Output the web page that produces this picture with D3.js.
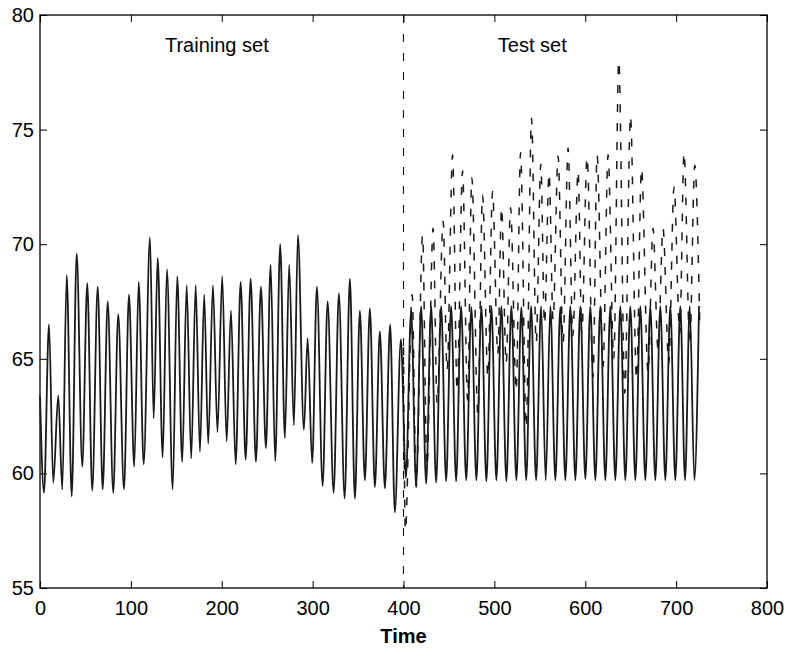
<!DOCTYPE html>
<html lang="en">
<head>
<meta charset="UTF-8">
<title>Training set / Test set</title>
<script src="https://d3js.org/d3.v7.min.js"></script>
<style>
body { margin: 0; background: #fff; }
text { font-family: Arial, "Liberation Sans", sans-serif; font-size: 20px; fill: #000; }
.axis path { display: none; }
.axis line { stroke: #000; stroke-width: 1; }
.box { fill: none; stroke: #000; stroke-width: 1.3; }
.solid { fill: none; stroke: #1a1a1a; stroke-width: 1.8; stroke-linejoin: round; }
.dashed { fill: none; stroke: #1a1a1a; stroke-width: 1.5; stroke-dasharray: 8, 11; }
.split { stroke: #111; stroke-width: 1.1; stroke-dasharray: 8, 11; }
</style>
</head>
<body>
<div id="chart"></div>
<script>
// tick values
const xTicks = [0, 100, 200, 300, 400, 500, 600, 700, 800];
const yTicks = [55, 60, 65, 70, 75, 80];

// solid series, read as local peaks / troughs
const solidTime = [
  0, 4.4, 9.9, 14.6, 20.1, 24.5, 29.4, 34.9, 40.4, 46.5,
  52.0, 57.5, 63.5, 69.0, 74.5, 80.6, 86.1, 92.4, 97.9, 103.7,
  108.6, 114.1, 121, 125.1, 129.5, 135, 139.7, 146, 151, 156.5,
  161.4, 166.4, 171.3, 176, 180.7, 185.1, 190.3, 195.3, 200.5, 205.4,
  210.1, 215.3, 220.8, 226.3, 231.8, 237.6, 243.1, 248.6, 253.8, 258.8,
  264.3, 269.5, 274.2, 279.4, 283.8, 290.4, 294.5, 299.5, 304.7, 311,
  316.5, 323.1, 328.9, 335.2, 341, 346.5, 352, 357.5, 363, 368.5,
  374, 379.5, 385.3, 390.5, 397.1, 402.6, 408.4, 413.9, 419.4, 424.9,
  430.4, 435.9, 441.4, 446.9, 452.4, 457.9, 463.4, 469, 474.7, 480.2,
  485.7, 491.2, 496.7, 502.2, 507.7, 513.2, 518.7, 524.2, 529.7, 535,
  540.4, 545.9, 551.4, 556.5, 561.6, 567.1, 572.6, 578.1, 583.6, 589.1,
  594.6, 600.1, 605.6, 611.1, 616.6, 622.1, 627.6, 633.1, 638.6, 644.1,
  649.6, 655.1, 660.6, 666.1, 671.6, 677.1, 682.6, 688.1, 693.6, 699.1,
  704.6, 709.8, 715, 720.1, 725.2
];
const solidValue = [
  63.4, 59.15, 66.5, 59.6, 63.4, 59.3, 68.65, 59.0, 69.6, 60.3,
  68.3, 59.25, 68.15, 59.3, 67.5, 59.15, 66.95, 59.3, 67.8, 60.3,
  68.35, 60.4, 70.3, 62.4, 69.4, 60.7, 68.9, 59.3, 68.6, 60.5,
  68.2, 60.65, 68.2, 60.95, 67.8, 61.3, 68.2, 61.8, 68.6, 61.4,
  67.1, 60.4, 68.35, 60.6, 68.5, 60.5, 68.15, 61.1, 69.1, 60.55,
  70.0, 61.55, 69.1, 62.1, 70.4, 61.9, 65.9, 60.45, 68.15, 59.45,
  67.5, 59.15, 67.85, 58.9, 68.5, 58.9, 67.1, 59.7, 67.2, 59.4,
  66.2, 59.35, 66.5, 58.3, 65.85, 59.8, 67.1, 59.45, 67.3, 59.55,
  67.3, 59.6, 67.3, 59.65, 67.3, 59.65, 67.3, 59.7, 67.25, 59.7,
  67.3, 59.65, 67.3, 59.7, 67.3, 59.65, 67.3, 59.7, 67.25, 59.7,
  67.3, 59.7, 67.3, 59.7, 67.3, 59.7, 67.25, 59.7, 67.3, 59.7,
  67.3, 59.75, 67.3, 59.7, 67.3, 59.7, 67.3, 59.7, 67.3, 59.7,
  67.3, 59.7, 67.3, 59.7, 67.3, 59.7, 67.3, 59.7, 67.3, 59.7,
  67.3, 59.7, 67.3, 59.7, 67.3
];

// dashed series (test set only)
const dashedTime = [
  400, 402.1, 409.5, 414, 421, 425.7, 432.6, 437, 443.6, 448,
  454, 459, 465, 470.5, 475.2, 481.8, 487, 492.8, 498, 503.8,
  507.9, 513, 517.8, 524, 528.8, 535, 540.9, 546, 551.1, 555.2,
  560.2, 564.6, 570.1, 575.6, 581.1, 586.3, 592.1, 596.2, 602, 608.6,
  613, 619.6, 625.1, 631.4, 636.9, 643.5, 649.8, 656.4, 661.9, 669.1,
  674.6, 680.1, 685.6, 691.9, 697.7, 704, 708.7, 715, 720.5, 726
];
const dashedValue = [
  65.5, 57.5, 67.8, 59.4, 70.4, 60.3, 70.7, 63.05, 71.0, 64.5,
  73.9, 63.6, 73.2, 63.2, 72.9, 62.6, 72.15, 64.2, 72.3, 65.2,
  71.6, 64.8, 71.6, 63.6, 74.0, 62.0, 75.5, 65.7, 73.5, 66.5,
  73.1, 66.7, 73.85, 65.7, 74.2, 66.0, 73.2, 66.1, 73.8, 64.2,
  73.9, 64.65, 73.9, 65.0, 78.0, 63.5, 75.6, 64.1, 73.3, 64.4,
  70.7, 65.4, 70.7, 64.8, 72.5, 66.1, 74.0, 65.6, 73.45, 66.5
];

const splitTime = 400;
const annotations = [
  { text: "Training set", t: 137.5, v: 78.4 },
  { text: "Test set", t: 503.8, v: 78.4 }
];

const width = 788, height = 648;
const margin = { top: 15, right: 21, bottom: 60, left: 40 };
const iw = width - margin.left - margin.right;
const ih = height - margin.top - margin.bottom;

const svg = d3.select("#chart").append("svg")
  .attr("width", width)
  .attr("height", height);

const g = svg.append("g")
  .attr("transform", `translate(${margin.left},${margin.top})`);

const x = d3.scaleLinear().domain([0, 800]).range([0, iw]);
const y = d3.scaleLinear().domain([55, 80]).range([ih, 0]);

// axes with inward ticks on all four sides
g.append("g").attr("class", "axis")
  .attr("transform", `translate(0,${ih})`)
  .call(d3.axisBottom(x).tickValues(xTicks).tickSizeInner(-7).tickSizeOuter(0).tickPadding(13));
g.append("g").attr("class", "axis")
  .call(d3.axisTop(x).tickValues(xTicks).tickSizeInner(-7).tickSizeOuter(0).tickFormat(""));
g.append("g").attr("class", "axis")
  .call(d3.axisLeft(y).tickValues(yTicks).tickSizeInner(-7).tickSizeOuter(0).tickPadding(6));
g.append("g").attr("class", "axis")
  .attr("transform", `translate(${iw},0)`)
  .call(d3.axisRight(y).tickValues(yTicks).tickSizeInner(-7).tickSizeOuter(0).tickFormat(""));

g.append("rect").attr("class", "box")
  .attr("width", iw).attr("height", ih);

const line = d3.line()
  .x(d => x(d[0]))
  .y(d => y(d[1]))
  .curve(d3.curveMonotoneX);

g.append("path").attr("class", "dashed")
  .attr("d", line(d3.zip(dashedTime, dashedValue)));

g.append("path").attr("class", "solid")
  .attr("d", line(d3.zip(solidTime, solidValue)));

g.append("line").attr("class", "split")
  .attr("x1", x(splitTime)).attr("x2", x(splitTime))
  .attr("y1", 0).attr("y2", ih);

g.selectAll(".note").data(annotations).enter()
  .append("text").attr("class", "note")
  .attr("x", d => x(d.t))
  .attr("y", d => y(d.v))
  .text(d => d.text);

g.append("text")
  .attr("x", iw / 2)
  .attr("y", ih + 55)
  .attr("text-anchor", "middle")
  .style("font-weight", "bold")
  .text("Time");
</script>
</body>
</html>
